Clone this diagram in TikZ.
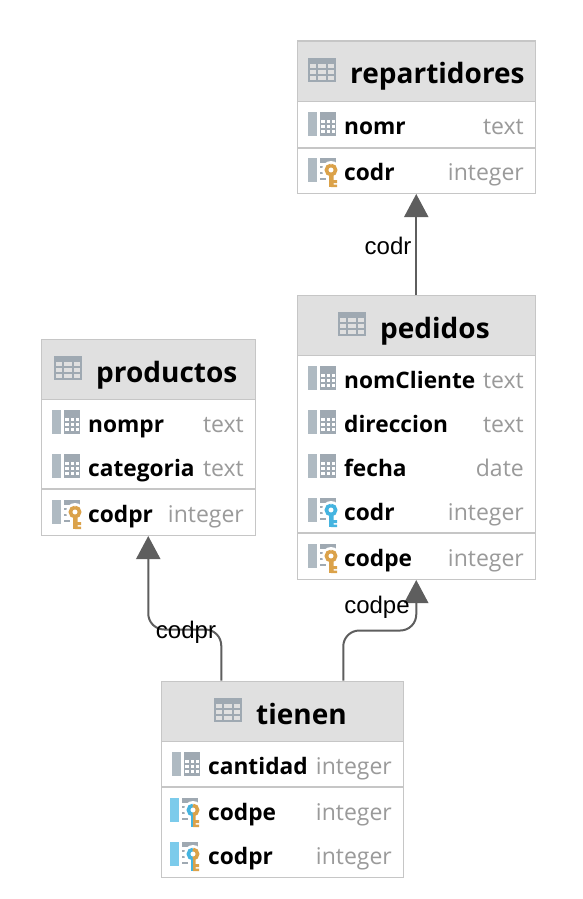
\documentclass[tikz,border=0pt]{standalone}
\usepackage{fontspec}
\setmainfont{Open Sans}
\newfontfamily\labelfont{Liberation Sans}
\usetikzlibrary{arrows.meta}
\definecolor{headfill}{HTML}{E0E0E0}
\definecolor{boxline}{HTML}{C6C6C6}
\definecolor{iconbar}{HTML}{AFBAC2}
\definecolor{icongrey}{HTML}{9FA9B2}
\definecolor{typegrey}{HTML}{9A9A9A}
\definecolor{arrowgrey}{HTML}{5E5E5E}
\definecolor{keyorange}{HTML}{DBA24A}
\definecolor{keyblue}{HTML}{45B4E0}
\definecolor{fkbar}{HTML}{7CCBEB}
\tikzset{
  tablebox/.style={draw=boxline,line width=1.5pt,fill=white,anchor=north west,inner sep=0pt},
  headbox/.style={draw=boxline,line width=1.5pt,fill=headfill,anchor=north west,inner sep=0pt},
  divider/.style={draw=boxline,line width=2pt},
  tabletitle/.style={font=\fontsize{28}{30}\selectfont\bfseries,anchor=base west,inner sep=0pt},
  colname/.style={font=\fontsize{22.7}{26}\selectfont\bfseries,anchor=base west,inner sep=0pt},
  coltype/.style={font=\fontsize{23}{26}\selectfont,text=typegrey,anchor=base east,inner sep=0pt},
  fklabel/.style={font=\labelfont\fontsize{24}{27}\selectfont,inner sep=0pt},
  fkline/.style={draw=arrowgrey,line width=2pt,-{Triangle[length=23pt,width=24pt,color=arrowgrey]}},
  pics/tableicon/.style={code={
    \fill[icongrey] (0,-12) rectangle (28,12);
    \foreach \cx/\cw in {2/6,10/8,20/6} \foreach \cy in {-6,0,6}
      \fill[headfill] (\cx,\cy) rectangle ++(\cw,4);
  }},
  pics/colicon/.style={code={
    \fill[iconbar] (0,-12) rectangle (9,12);
    \fill[icongrey] (12,-12) rectangle (28,12);
    \foreach \cx/\cw in {13/3.5,18.5/3.5,23.5/3} \foreach \cy in {-4,1,6}
      \fill[white] (\cx,\cy) rectangle ++(\cw,3);
  }},
  pics/keyicon/.style n args={3}{code={
    % bar and grey lines behind the key
    \fill[#1] (0,-12) rectangle (9,12);
    \fill[icongrey] (12,-12) rectangle (28,-7);
    \fill[icongrey] (12,-4) rectangle (18,-2);
    \fill[icongrey] (12,2) rectangle (18,4);
    \fill[icongrey] (12,8) rectangle (18,10);
    % key
    \fill[white] (23,0) circle (9);
    \fill[white] (19,6) rectangle (31,17);
    \fill[#2] (21,4) rectangle (23,17);
    \fill[#3] (23,4) rectangle (25.5,17) (25.5,10) rectangle (29,13) (25.5,14.5) rectangle (29,17);
    \draw[#2,line width=3.6pt] (23,-4.6) arc[start angle=90,end angle=270,radius=4.6pt];
    \draw[#3,line width=3.6pt] (23,-4.6) arc[start angle=90,end angle=-90,radius=4.6pt];
  }}
}
\begin{document}
\begin{tikzpicture}[x=1pt,y=-1pt]
  \useasboundingbox (0,0) rectangle (582,899);

  % repartidores
  \node[tablebox,minimum width=238pt,minimum height=152pt] (repartidores) at (296.5,40.5) {};
  \node[headbox,minimum width=238pt,minimum height=60pt] (repartidoresHead) at (296.5,40.5) {};
  \pic at (308,70) {tableicon};
  \node[tabletitle] (repTitle) at (350,84) {repartidores};
  \pic at (308,124) {colicon};
  \node[colname] (repNomr) at (344,134) {nomr};
  \node[coltype] (repNomrType) at (524,134) {text};
  \draw[divider] (297,148) -- (535,148);
  \pic at (308,170) {keyicon={iconbar}{keyorange}{keyorange}};
  \node[colname] (repCodr) at (344,180) {codr};
  \node[coltype] (repCodrType) at (524,180) {integer};

  % pedidos
  \node[tablebox,minimum width=238pt,minimum height=284pt] (pedidos) at (296.5,294.5) {};
  \node[headbox,minimum width=238pt,minimum height=60pt] (pedidosHead) at (296.5,294.5) {};
  \pic at (338,324) {tableicon};
  \node[tabletitle] (pedTitle) at (380,338) {pedidos};
  \pic at (308,378) {colicon};
  \node[colname] (pedNom) at (344,388) {nomCliente};
  \node[coltype] (pedNomType) at (524,388) {text};
  \pic at (308,422) {colicon};
  \node[colname] (pedDir) at (344,432) {direccion};
  \node[coltype] (pedDirType) at (524,432) {text};
  \pic at (308,466) {colicon};
  \node[colname] (pedFecha) at (344,476) {fecha};
  \node[coltype] (pedFechaType) at (524,476) {date};
  \pic at (308,510) {keyicon={iconbar}{keyblue}{keyblue}};
  \node[colname] (pedCodr) at (344,520) {codr};
  \node[coltype] (pedCodrType) at (524,520) {integer};
  \draw[divider] (297,533) -- (535,533);
  \pic at (308,556) {keyicon={iconbar}{keyorange}{keyorange}};
  \node[colname] (pedCodpe) at (344,566) {codpe};
  \node[coltype] (pedCodpeType) at (524,566) {integer};

  % productos
  \node[tablebox,minimum width=214pt,minimum height=196pt] (productos) at (40.5,338.5) {};
  \node[headbox,minimum width=214pt,minimum height=60pt] (productosHead) at (40.5,338.5) {};
  \pic at (54,368) {tableicon};
  \node[tabletitle] (proTitle) at (96,382) {productos};
  \pic at (52,422) {colicon};
  \node[colname] (proNompr) at (88,432) {nompr};
  \node[coltype] (proNomprType) at (244,432) {text};
  \pic at (52,466) {colicon};
  \node[colname] (proCat) at (88,476) {categoria};
  \node[coltype] (proCatType) at (244,476) {text};
  \draw[divider] (41,489) -- (255,489);
  \pic at (52,512) {keyicon={iconbar}{keyorange}{keyorange}};
  \node[colname] (proCodpr) at (88,522) {codpr};
  \node[coltype] (proCodprType) at (244,522) {integer};

  % tienen
  \node[tablebox,minimum width=242pt,minimum height=196pt] (tienen) at (160.5,680.5) {};
  \node[headbox,minimum width=242pt,minimum height=60pt] (tienenHead) at (160.5,680.5) {};
  \pic at (214,710) {tableicon};
  \node[tabletitle] (tieTitle) at (256,724) {tienen};
  \pic at (172,764) {colicon};
  \node[colname] (tieCant) at (208,774) {cantidad};
  \node[coltype] (tieCantType) at (392,774) {integer};
  \draw[divider] (161,787) -- (403,787);
  \pic at (170,810) {keyicon={fkbar}{keyblue}{keyorange}};
  \node[colname] (tieCodpe) at (208,820) {codpe};
  \node[coltype] (tieCodpeType) at (392,820) {integer};
  \pic at (170,854) {keyicon={fkbar}{keyblue}{keyorange}};
  \node[colname] (tieCodpr) at (208,864) {codpr};
  \node[coltype] (tieCodprType) at (392,864) {integer};

  % foreign keys
  \draw[fkline] (pedidos.north) -- (repartidores.south);
  \draw[fkline,rounded corners=16pt] ([xshift=-61pt]tienen.north) -- ++(0,-51) -| (productos.south);
  \draw[fkline,rounded corners=16pt] ([xshift=61pt]tienen.north) -- ++(0,-50) -| (pedidos.south);
  \node[fklabel] (labelCodr) at (388,246) {codr};
  \node[fklabel] (labelCodpr) at (186,632) {codpr};
  \node[fklabel] (labelCodpe) at (377,607) {codpe};
\end{tikzpicture}
\end{document}
